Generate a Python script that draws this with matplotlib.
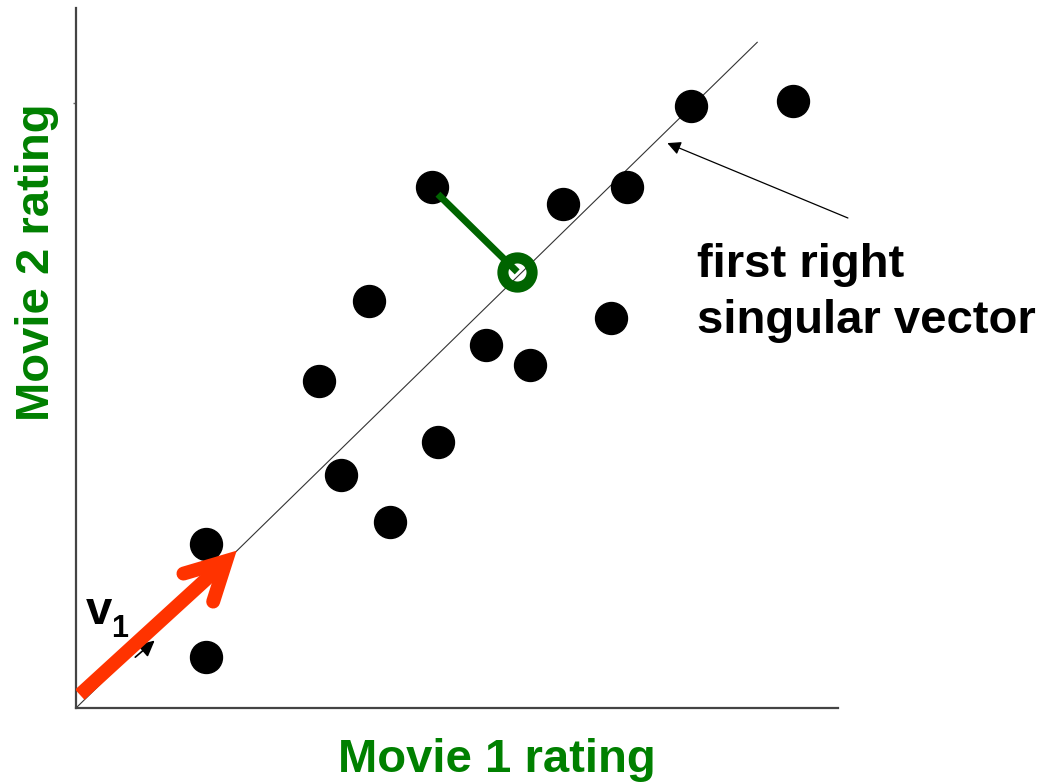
import matplotlib
matplotlib.use("Agg")
import matplotlib.pyplot as plt

# Data (rating units)
movie1 = [1.71, 1.71, 3.19, 3.48, 3.85, 4.12, 4.67, 4.75, 5.38, 5.96, 6.39, 7.02, 7.23, 8.07, 9.41]
movie2 = [2.34, 0.73, 4.67, 3.33, 5.81, 2.66, 7.44, 3.80, 5.19, 4.90, 7.20, 5.57, 7.44, 8.60, 8.67]

line_x = [0.0, 8.94]
line_y = [0.0, 9.51]

proj_pt = (4.75, 7.34)
proj_foot = (5.79, 6.23)

v1_tail = (0.05, 0.19)
v1_head = (1.97, 2.10)

W, H = 1043, 783
fig = plt.figure(figsize=(W / 100, H / 100), dpi=100)
ax = fig.add_axes([76 / W, (783 - 708) / H, (838 - 76) / W, (708 - 8) / H])
ax.set_xlim(0, 10)
ax.set_ylim(0, 10)
for s in ["top", "right"]:
    ax.spines[s].set_visible(False)
for s in ["left", "bottom"]:
    ax.spines[s].set_color("#444444")
    ax.spines[s].set_linewidth(1.6)
ax.set_xticks([])
ax.set_yticks([(708 - 103) / 70])
ax.set_yticklabels([])
ax.tick_params(axis="y", length=2, width=1, color="#666666")

# principal line
ax.plot(line_x, line_y, color="#333333", lw=0.8, zorder=1)

# points
ax.plot(movie1, movie2, "o", color="black", markersize=23, zorder=3)

# projection
ax.plot([proj_pt[0], proj_foot[0]], [proj_pt[1], proj_foot[1]], color="#006400",
        lw=5, solid_capstyle="butt", zorder=4)
ax.plot([proj_foot[0]], [proj_foot[1]], "o", markerfacecolor="none",
        markeredgecolor="#006400", markersize=21, markeredgewidth=8, zorder=5)

# small black arrow near v1
ax.annotate("", xy=(1.06, 0.99), xytext=(0.75, 0.70),
            arrowprops=dict(arrowstyle="-|>", color="black", lw=1.2,
                            mutation_scale=24), zorder=2)

# red v1 arrow
red = "#ff3300"
ax.plot([v1_tail[0], v1_head[0]], [v1_tail[1], v1_head[1]], color=red, lw=10,
        solid_capstyle="butt", zorder=6)
hx, hy = v1_head
ax.plot([hx - 0.56, hx, hx - 0.17], [hy - 0.18, hy, hy - 0.58], color=red, lw=10,
        solid_capstyle="round", solid_joinstyle="miter", zorder=6)

# annotation arrow
ax.annotate("", xy=(7.76, 8.07), xytext=(10.13, 7.0),
            arrowprops=dict(arrowstyle="-|>", color="black", lw=0.9,
                            mutation_scale=20, shrinkA=0, shrinkB=0),
            annotation_clip=False, zorder=2)

bold = dict(family="Liberation Sans", weight="bold")
green = "#008000"
fig.text(497 / W, 1 - 760 / H, "Movie 1 rating", color=green, fontsize=34,
         ha="center", va="center", **bold)
fig.text(37 / W, 1 - 262 / H, "Movie 2 rating", color=green, fontsize=34,
         ha="center", va="center", rotation=90, **bold)
fig.text(697 / W, 1 - 277 / H, "first right", color="black", fontsize=34,
         ha="left", va="baseline", **bold)
fig.text(697 / W, 1 - 333 / H, "singular vector", color="black", fontsize=34,
         ha="left", va="baseline", **bold)
fig.text(86 / W, 1 - 624 / H, "v", color="black", fontsize=34,
         ha="left", va="baseline", **bold)
fig.text(111 / W, 1 - 637 / H, "1", color="black", fontsize=22,
         ha="left", va="baseline", **bold)

fig.savefig("out.png", dpi=100)
